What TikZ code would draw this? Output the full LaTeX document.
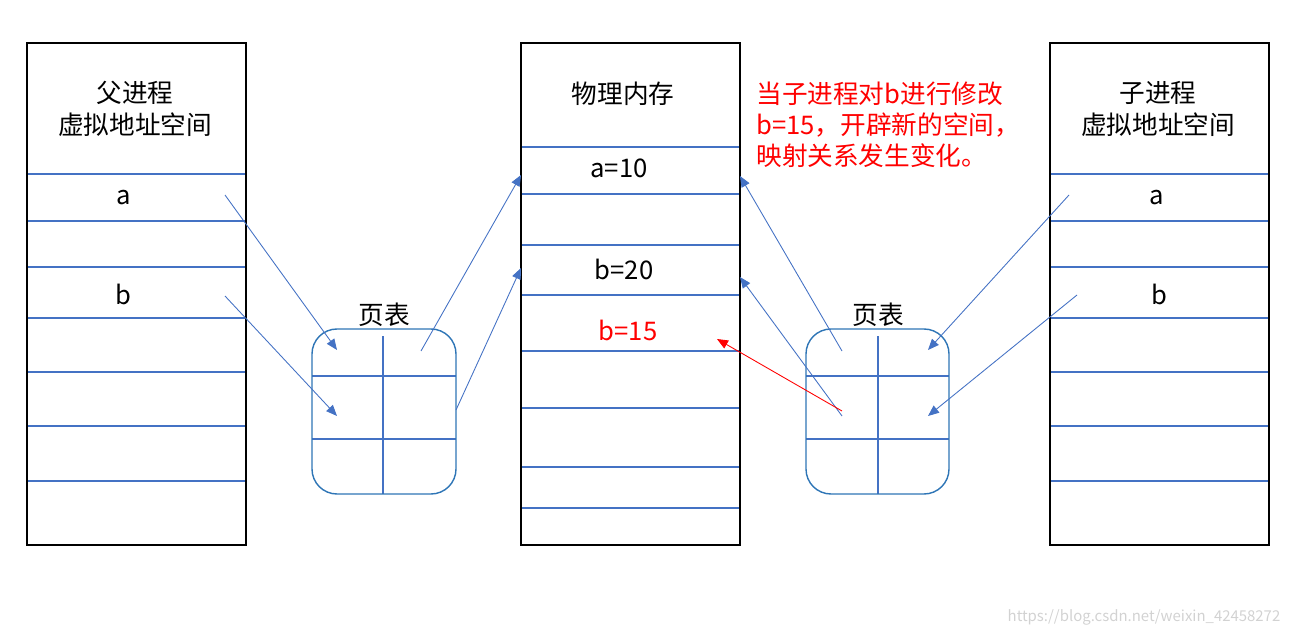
\documentclass[tikz,border=0pt]{standalone}
\usepackage{fontspec}
\newfontfamily\cjk{Noto Sans CJK SC}
\usepackage{xcolor}
\usepackage{tikz}
\usetikzlibrary{arrows.meta}
\definecolor{rowblue}{RGB}{68, 114, 196}
\definecolor{tableblue}{RGB}{46, 117, 182}
\definecolor{notered}{RGB}{255, 0, 0}
\tikzset{
  spacebox/.style={
    draw=black,
    line width=0.8pt
  },
  rowline/.style={
    draw=rowblue,
    line width=0.6pt
  },
  pagetable/.style={
    draw=tableblue,
    line width=0.8pt,
    rounded corners=0.5cm
  },
  celltext/.style={
    inner sep=0pt,
    align=center,
    font=\cjk\fontsize{14.6}{18}\selectfont
  },
  notetext/.style={
    inner sep=0pt,
    align=left,
    text=notered,
    font=\cjk\fontsize{14.6}{17.6}\selectfont
  },
  maparrow/.style={
    -{Triangle[length=2.2mm,width=1.8mm]},
    line width=0.5pt,
    draw=rowblue
  },
  newarrow/.style={
    -{Triangle[length=2.2mm,width=1.8mm]},
    line width=0.5pt,
    draw=notered
  }
}

\begin{document}
\begin{tikzpicture}[x=0.02cm,y=-0.02cm]
  \useasboundingbox (0,0) rectangle (1289,635);

  % parent virtual address space
  \foreach \y in {174,221,267,318,372,426,481}
    \draw[rowline] (27,\y) -- (246,\y);
  \draw[spacebox] (27,43) rectangle (246,545);
  \node[celltext] (ptitle) at (135,109) {父进程\\虚拟地址空间};
  \node[celltext] (pa) at (124,198) {a};
  \node[celltext] (pb) at (123,294) {b};

  % physical memory
  \foreach \y in {147,194,245,295,351,408,467,508}
    \draw[rowline] (521,\y) -- (740,\y);
  \draw[spacebox] (521,43) rectangle (740,545);
  \node[celltext] (mtitle) at (623,94) {物理内存};
  \node[celltext] (ma) at (619,168) {a=10};
  \node[celltext] (mb) at (624,269) {b=20};
  \node[celltext, text=notered] (mnew) at (628,330) {b=15};

  % child virtual address space
  \foreach \y in {174,221,267,318,372,426,481}
    \draw[rowline] (1050,\y) -- (1269,\y);
  \draw[spacebox] (1050,43) rectangle (1269,545);
  \node[celltext] (ctitle) at (1158,109) {子进程\\虚拟地址空间};
  \node[celltext] (ca) at (1157,198) {a};
  \node[celltext] (cb) at (1159,294) {b};

  % page tables
  \draw[rowline] (383,336) -- (383,494) (312,376) -- (456,376) (312,439) -- (456,439);
  \draw[pagetable] (312,329) rectangle (456,494);
  \node[celltext] (ptl) at (384,315) {页表};
  \draw[rowline] (878,336) -- (878,494) (806,376) -- (949,376) (806,439) -- (949,439);
  \draw[pagetable] (806,329) rectangle (949,494);
  \node[celltext] (ptr) at (878,315) {页表};

  \node[notetext, anchor=west] (note) at (756,125) {当子进程对b进行修改\\b=15，开辟新的空间，\\映射关系发生变化。};

  % arrow ends
  \coordinate (pa-out) at (225,195);
  \coordinate (pb-out) at (225,296);
  \coordinate (ptl-a) at (337,350);
  \coordinate (ptl-b) at (337,416);
  \coordinate (ptl-a-out) at (421,351);
  \coordinate (ptl-b-out) at (456,410);
  \coordinate (mem-a-l) at (521,175);
  \coordinate (mem-b-l) at (521,268);
  \coordinate (mem-a-r) at (740,176);
  \coordinate (mem-b-r) at (740,277);
  \coordinate (mem-new) at (717,339);
  \coordinate (ptr-a-out) at (842,351);
  \coordinate (ptr-b-out) at (842,416);
  \coordinate (ptr-new-out) at (842,411);
  \coordinate (ptr-a) at (928,350);
  \coordinate (ptr-b) at (928,416);
  \coordinate (ca-out) at (1069,195);
  \coordinate (cb-out) at (1077,295);

  \draw[maparrow] (pa-out) -- (ptl-a);
  \draw[maparrow] (pb-out) -- (ptl-b);
  \draw[maparrow] (ptl-a-out) -- (mem-a-l);
  \draw[maparrow] (ptl-b-out) -- (mem-b-l);
  \draw[maparrow] (ptr-a-out) -- (mem-a-r);
  \draw[maparrow] (ptr-b-out) -- (mem-b-r);
  \draw[newarrow] (ptr-new-out) -- (mem-new);
  \draw[maparrow] (ca-out) -- (ptr-a);
  \draw[maparrow] (cb-out) -- (ptr-b);

  \node[font=\cjk\fontsize{8.5}{10}\selectfont, text=gray!35, inner sep=0pt] (mark) at (1144,617) {https://blog.csdn.net/weixin\_42458272};
\end{tikzpicture}
\end{document}
